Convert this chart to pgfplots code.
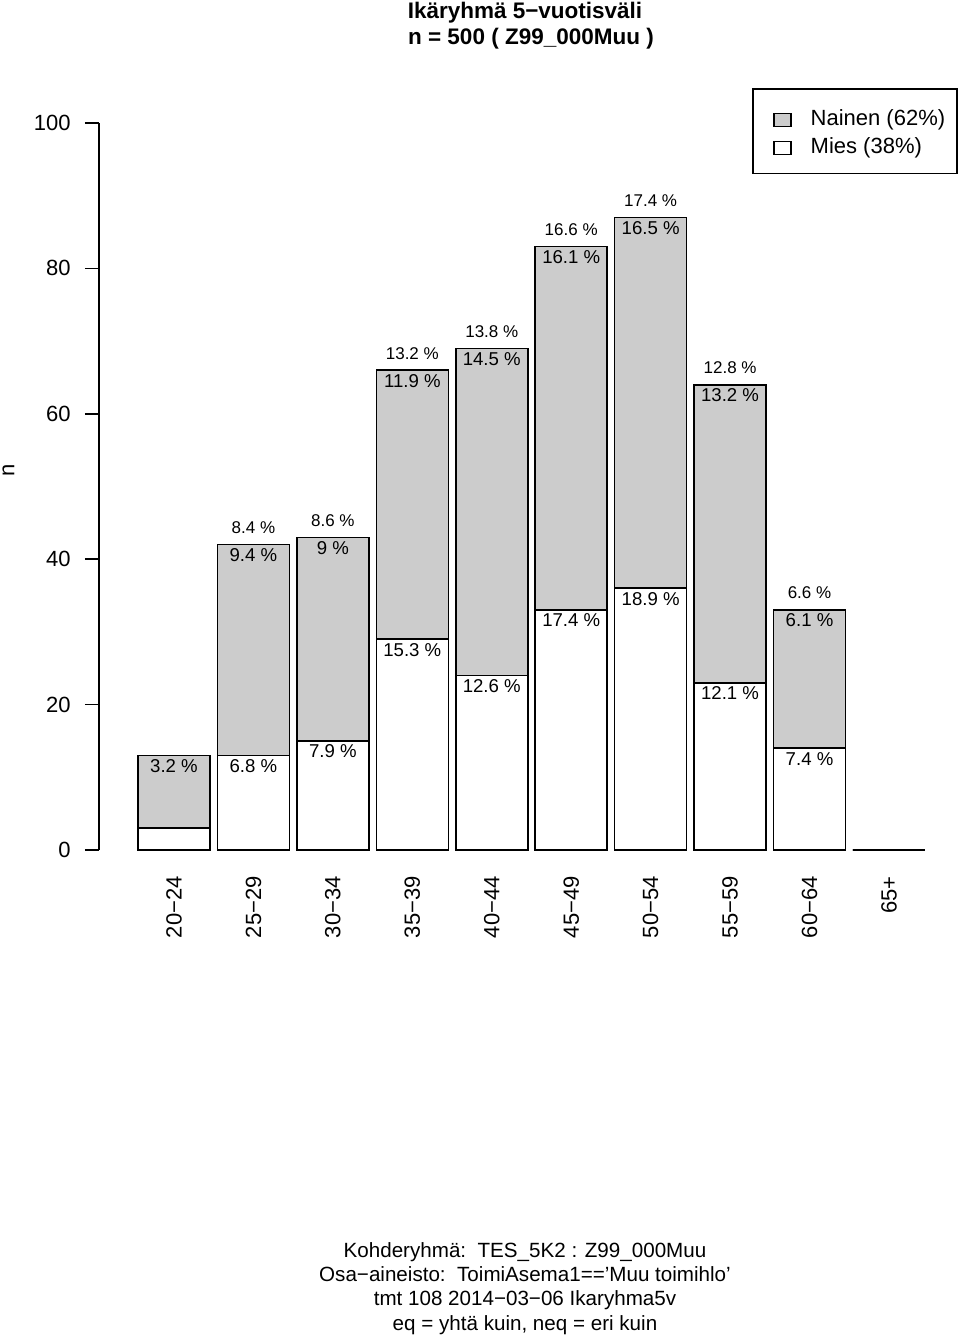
\documentclass[border=0pt]{standalone}
\usepackage{fontspec}
\setmainfont{Liberation Sans}
\usepackage{pgfplots}
\usepackage{pgfplotstable}
\pgfplotsset{compat=1.18}
\definecolor{barGray}{RGB}{204,204,204}

% counts per age group: Mies (white, bottom) and Nainen (grey, top)
\pgfplotstableread[col sep=comma]{
x,mies,nainen
0,3,10
1,13,29
2,15,28
3,29,37
4,24,45
5,33,50
6,36,51
7,23,41
8,14,19
9,0,0
}\agedata

% percentage labels: share of all (above bar)
\pgfplotstableread[col sep=comma]{
x,y,lbl
1,42,8.4 \%
2,43,8.6 \%
3,66,13.2 \%
4,69,13.8 \%
5,83,16.6 \%
6,87,17.4 \%
7,64,12.8 \%
8,33,6.6 \%
}\totlabels

% share of women (just below top of bar)
\pgfplotstableread[col sep=comma]{
x,y,lbl
0,13,3.2 \%
1,42,9.4 \%
2,43,9 \%
3,66,11.9 \%
4,69,14.5 \%
5,83,16.1 \%
6,87,16.5 \%
7,64,13.2 \%
8,33,6.1 \%
}\nlabels

% share of men (just below top of white part)
\pgfplotstableread[col sep=comma]{
x,y,lbl
1,13,6.8 \%
2,15,7.9 \%
3,29,15.3 \%
4,24,12.6 \%
5,33,17.4 \%
6,36,18.9 \%
7,23,12.1 \%
8,14,7.4 \%
}\mlabels

\newcommand{\mainfont}{\fontsize{11}{13.2}\selectfont}
\newcommand{\notefont}{\fontsize{10.3}{12.4}\selectfont}

\begin{document}
\begin{tikzpicture}
\useasboundingbox (-49.5pt,-244pt) rectangle (430.5pt,425pt);
\begin{axis}[
  at={(0pt,0pt)}, anchor=south west,
  scale only axis, width=426pt, height=363.5pt,
  xmin=-0.9441, xmax=9.781, ymin=0, ymax=100,
  clip=false,
  axis lines*=left,
  axis line style={-, line width=0.8pt},
  x axis line style={draw=none},
  xtick={0,...,9},
  xticklabels={20−24,25−29,30−34,35−39,40−44,45−49,50−54,55−59,60−64,65+},
  major x tick style={draw=none},
  xticklabel style={yshift=-6pt, rotate=90, anchor=east, inner sep=0pt, font=\mainfont},
  ytick={0,20,40,60,80,100},
  yticklabels={0,20,40,60,80,100},
  /pgf/number format/assume math mode=true,
  tick align=outside, major tick length=7pt,
  major y tick style={line width=0.8pt, black},
  yticklabel style={anchor=east, inner sep=0pt, xshift=-7pt, font=\mainfont},
  legend cell align=left,
  legend style={at={(rel axis cs:1.0082,1.0481)}, anchor=north east,
    draw=black, line width=0.8pt, fill=white,
    inner xsep=6pt, inner ysep=7.6pt, row sep=3.7pt,
    font=\mainfont,
    nodes={inner sep=0pt, text height=7.8pt, text depth=2.5pt}},
]
\addplot[ybar, bar width=0.906, bar shift=0pt, fill=barGray, draw=black, line width=0.8pt,
  legend image code/.code={\path (0pt,7.65pt) (22pt,0pt); \draw[fill=barGray, draw=black, line width=0.8pt] (4pt,-3.25pt) rectangle (12.5pt,3.25pt);}]
  table[x=x, y expr=\thisrow{mies}+\thisrow{nainen}] {\agedata};
\addlegendentry{Nainen (62\%)}
\addplot[ybar, bar width=0.906, bar shift=0pt, fill=white, draw=black, line width=0.8pt,
  legend image code/.code={\path (0pt,0pt) (22pt,0pt); \draw[fill=white, draw=black, line width=0.8pt] (4pt,-3.25pt) rectangle (12.5pt,3.25pt);}]
  table[x=x, y=mies] {\agedata};
\addlegendentry{Mies (38\%)}

\addplot[draw=none, forget plot, point meta=explicit symbolic, nodes near coords,
  every node near coord/.append style={anchor=center, yshift=8.5pt, font=\fontsize{8.5}{10}\selectfont, inner sep=0pt}]
  table[x=x, y=y, meta=lbl] {\totlabels};
\addplot[draw=none, forget plot, point meta=explicit symbolic, nodes near coords,
  every node near coord/.append style={anchor=center, yshift=-5.25pt, font=\fontsize{9.3}{11}\selectfont, inner sep=0pt}]
  table[x=x, y=y, meta=lbl] {\nlabels};
\addplot[draw=none, forget plot, point meta=explicit symbolic, nodes near coords,
  every node near coord/.append style={anchor=center, yshift=-5.25pt, font=\fontsize{9.3}{11}\selectfont, inner sep=0pt}]
  table[x=x, y=y, meta=lbl] {\mlabels};

\node[rotate=90, anchor=center, inner sep=0pt, font=\mainfont] at (rel axis cs:-0.1062,0.5227) {n};
\node[anchor=base, font=\bfseries\fontsize{11.25}{13.5}\selectfont] at (rel axis cs:0.5,1.1440) {Ikäryhmä 5−vuotisväli};
\node[anchor=base, font=\bfseries\fontsize{11.25}{13.5}\selectfont] at (rel axis cs:0.507,1.1083) {n = 500 ( Z99\_000Muu )};
\node[anchor=base, font=\notefont] at (rel axis cs:0.5,-0.5605) {Kohderyhmä:\ \ TES\_5K2 : Z99\_000Muu};
\node[anchor=base, font=\notefont] at (rel axis cs:0.5,-0.5942) {Osa−aineisto:\ \ ToimiAsema1==’Muu toimihlo’};
\node[anchor=base, font=\notefont] at (rel axis cs:0.5,-0.6272) {tmt 108 2014−03−06 Ikaryhma5v};
\node[anchor=base, font=\notefont] at (rel axis cs:0.5,-0.6609) {eq = yhtä kuin, neq = eri kuin};
\end{axis}
\end{tikzpicture}
\end{document}
